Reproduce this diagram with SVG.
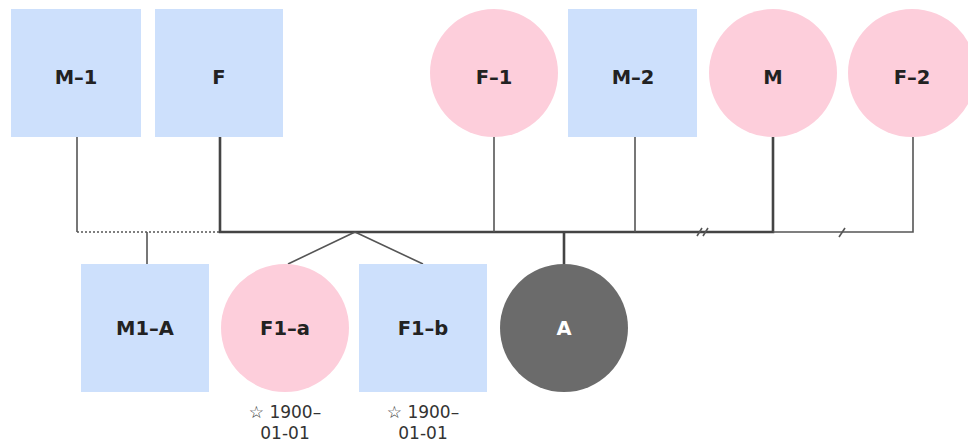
<svg xmlns="http://www.w3.org/2000/svg" width="968" height="444" viewBox="0 0 968 444">
<style>
.m{fill:#cde0fc}
.f{fill:#fdcedb}
.u{fill:#6b6b6b}
.lbl{font-family:"DejaVu Sans","Liberation Sans",sans-serif;font-weight:bold;font-size:19.5px;text-anchor:middle;fill:#222}
.lw{fill:#fff}
.dt{font-family:"DejaVu Sans","Liberation Sans",sans-serif;font-size:17px;text-anchor:middle;fill:#333}
.ln{stroke:#555;stroke-width:1.6;fill:none}
.th{stroke:#444;stroke-width:2.6;fill:none}
.dot{stroke:#555;stroke-width:1.6;stroke-dasharray:2,2;fill:none}
</style>
<g id="connectors">
<path class="ln" d="M77,137V232"/>
<path class="dot" d="M77,232H220"/>
<path class="ln" d="M147,232V264"/>
<path class="th" d="M220,137V232H773V137"/>
<path class="ln" d="M494,137V232"/>
<path class="ln" d="M635,137V232"/>
<path class="ln" d="M773,232H913V137"/>
<path class="ln" d="M355,232L288,264M355,232L423,264"/>
<path class="th" d="M564,232V264"/>
<path class="ln" d="M697,236L702,228M703,236L708,228"/>
<path class="ln" d="M839,237L845,228"/>
</g>
<g id="M-1"><rect class="m" x="11" y="9" width="130" height="128"/><text class="lbl" x="76" y="84">M–1</text></g>
<g id="F"><rect class="m" x="155" y="9" width="128" height="128"/><text class="lbl" x="219" y="84">F</text></g>
<g id="F-1"><circle class="f" cx="494" cy="73" r="64"/><text class="lbl" x="494" y="84">F–1</text></g>
<g id="M-2"><rect class="m" x="568" y="9" width="129" height="128"/><text class="lbl" x="633" y="84">M–2</text></g>
<g id="M"><circle class="f" cx="773" cy="73" r="64"/><text class="lbl" x="773" y="84">M</text></g>
<g id="F-2"><circle class="f" cx="912" cy="73" r="64"/><text class="lbl" x="912" y="84">F–2</text></g>
<g id="M1-A"><rect class="m" x="81" y="264" width="128" height="128"/><text class="lbl" x="145" y="335">M1–A</text></g>
<g id="F1-a"><circle class="f" cx="285" cy="328" r="64"/><text class="lbl" x="285" y="335">F1–a</text><text class="dt" x="285" y="418">☆ 1900–</text><text class="dt" x="285" y="439">01-01</text></g>
<g id="F1-b"><rect class="m" x="359" y="264" width="128" height="128"/><text class="lbl" x="423" y="335">F1–b</text><text class="dt" x="423" y="418">☆ 1900–</text><text class="dt" x="423" y="439">01-01</text></g>
<g id="A"><circle class="u" cx="564" cy="328" r="64"/><text class="lbl lw" x="564" y="335">A</text></g>
</svg>
